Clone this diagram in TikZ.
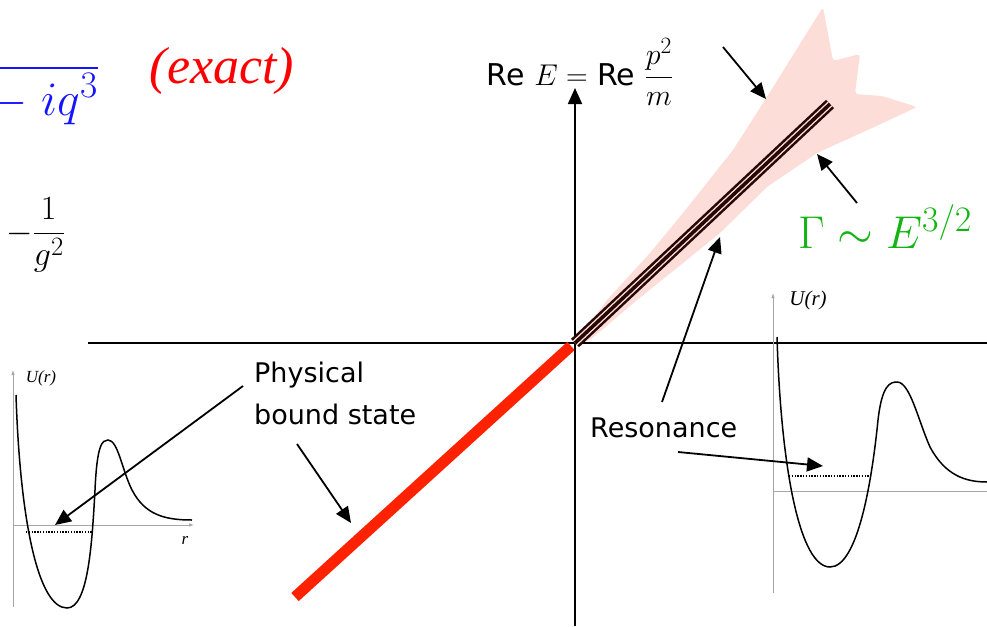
\RequirePackage{fix-cm}
\documentclass[tikz,border=0pt]{standalone}
\usepackage{amsmath}
\usepackage{fontspec}
\newfontfamily\labelsf{DejaVu Sans}
\newfontfamily\timesrm{Liberation Serif}
\usetikzlibrary{arrows.meta}
\renewcommand\defaultscriptratio{.78}

\definecolor{boundred}{RGB}{255,34,0}
\definecolor{shadepink}{RGB}{253,221,216}
\definecolor{resbrown}{RGB}{40,8,4}
\definecolor{gammagreen}{RGB}{20,180,20}
\definecolor{qblue}{RGB}{20,20,255}

\begin{document}
\begin{tikzpicture}[x=1pt, y=-1pt,
  arr/.style={-{Triangle[length=16pt,width=14pt]}, line width=1.8pt},
  axis/.style={line width=1.8pt},
  thinaxis/.style={gray!70, line width=0.8pt},
  well/.style={line width=1.5pt},
  level/.style={dash pattern=on 1.4pt off 1.4pt, line width=1.3pt},
  lbl/.style={font=\labelsf\fontsize{27}{42}\selectfont, inner sep=0pt},
  ulbl/.style={font=\timesrm\itshape\fontsize{17}{17}\selectfont, inner sep=0pt}
]
\useasboundingbox (0,0) rectangle (987,626);

\coordinate (orig) at (575,343);
\coordinate (resend) at (830,104);
\coordinate (bndend) at (295,597);
\coordinate (bndtop) at (571,346);
\coordinate (xl) at (88,343);
\coordinate (xr) at (987,343);
\coordinate (ybot) at (575,626);
\coordinate (ytop) at (575,88);

\fill[shadepink, rounded corners=3pt] (575,343) -- (607,300) -- (650,253) -- (683,213)
  -- (733,150) -- (765,100) -- (823,7) -- (833,61) -- (860,54) -- (855,94)
  -- (882,96) -- (917,107) -- (883,123) -- (817,153) -- (767,187) -- (720,233)
  -- (683,263) -- (637,300) -- (590,340) -- cycle;

\draw[axis] (xl) -- (xr);
\draw[arr] (ybot) -- (ytop);

\draw[boundred, line width=11pt] (bndend) -- (bndtop);
\draw[resbrown, line width=11.5pt] (orig) -- (resend);
\draw[shadepink, line width=6.4pt] (orig) -- (resend);
\draw[resbrown, line width=3.6pt] (orig) -- (resend);

% left well
\draw[thinaxis, -{Latex[length=5pt,width=3.5pt]}] (13,607) -- (13,370);
\draw[thinaxis, -{Latex[length=5pt,width=3.5pt]}] (13,525) -- (194,525);
\draw[well] (16,395) .. controls (20,520) and (38,608) .. (67,608)
  .. controls (88,608) and (92,545) .. (95,490)
  .. controls (97,445) and (102,440) .. (108,440)
  .. controls (118,440) and (122,470) .. (132,490)
  .. controls (145,515) and (165,520) .. (192,520);
\draw[level] (26,532) -- (92,532);
\node[ulbl] (uleft) at (41,378) {U(r)};
\node[ulbl] (rleft) at (185,540) {r};

% right well
\draw[thinaxis, -{Latex[length=5pt,width=3.5pt]}] (773,593) -- (773,293);
\draw[thinaxis] (773,491) -- (987,491);
\draw[well] (777,337) .. controls (781,470) and (800,567) .. (830,567)
  .. controls (858,567) and (872,480) .. (878,420)
  .. controls (882,385) and (890,382) .. (897,382)
  .. controls (910,382) and (918,420) .. (930,447)
  .. controls (945,475) and (965,482) .. (987,482);
\draw[level] (789,476) -- (870,476);
\node[ulbl, font=\timesrm\itshape\fontsize{21}{21}\selectfont] (uright) at (808,300) {U(r)};

\node[lbl, font=\labelsf\fontsize{30}{30}\selectfont, anchor=base] (reE) at (580,85) {Re $E=$ Re $\dfrac{p^2}{m}$};
\node[anchor=base, text=red, inner sep=0pt, font=\timesrm\itshape\fontsize{52}{52}\selectfont] (exact) at (222,83) {(exact)};
\node[anchor=base east, text=qblue, inner sep=0pt, font=\fontsize{48}{48}\selectfont] (denom) at (98,115) {$-\;iq^3$};
\draw[qblue, line width=2pt] (0,68) -- (98,68);
\node[anchor=west, inner sep=0pt, font=\fontsize{34}{34}\selectfont] (coup) at (6,235) {$-\dfrac{1}{g^2}$};
\node[anchor=base west, text=gammagreen, inner sep=0pt, font=\fontsize{46}{46}\selectfont] (gamma) at (798,248) {$\Gamma\sim E^{3/2}$};

\node[lbl, align=left, anchor=north west] (phys) at (254,362) {Physical\\bound state};
\node[lbl, anchor=base west] (reso) at (590,437) {Resonance};

\coordinate (physA) at (243,386);
\coordinate (wellL) at (55,525);
\coordinate (physB) at (297,444);
\coordinate (bndhit) at (351,523);
\coordinate (resA) at (662,402);
\coordinate (shadehit) at (720,237);
\coordinate (resB) at (678,452);
\coordinate (wellR) at (823,466);
\coordinate (topA) at (723,47);
\coordinate (topB) at (766,99);
\coordinate (gamA) at (857,203);
\coordinate (gamB) at (817,154);

\draw[arr] (physA) -- (wellL);
\draw[arr] (physB) -- (bndhit);
\draw[arr] (resA) -- (shadehit);
\draw[arr] (resB) -- (wellR);
\draw[arr] (topA) -- (topB);
\draw[arr] (gamA) -- (gamB);
\end{tikzpicture}
\end{document}
